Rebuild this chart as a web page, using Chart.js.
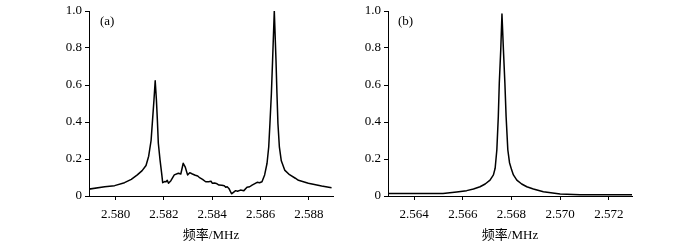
<!DOCTYPE html>
<html>
<head>
<meta charset="utf-8">
<script src="https://cdn.jsdelivr.net/npm/chart.js@4.4.0/dist/chart.umd.min.js"></script>
<style>
  html, body { margin: 0; padding: 0; background: #fff; }
  #wrap { position: relative; width: 674px; height: 245px; }
  .panel { position: absolute; top: 0; width: 337px; height: 245px; }
</style>
</head>
<body>
<div id="wrap">
  <div class="panel" style="left:0"><canvas id="chartA"></canvas></div>
  <div class="panel" style="left:337px"><canvas id="chartB"></canvas></div>
</div>
<script>
// (a) frequency (MHz) and normalised amplitude
const freqA = [
  2.57889, 2.57955, 2.57996, 2.58037, 2.58065, 2.58090, 2.58110, 2.58126, 2.58137, 2.58147,
  2.58153, 2.58159, 2.58164, 2.58169, 2.58173, 2.58177, 2.58184, 2.58191, 2.58195, 2.58203,
  2.58209, 2.58214, 2.58219, 2.58229, 2.58243, 2.58260, 2.58270, 2.58280, 2.58288, 2.58298,
  2.58307, 2.58318, 2.58330, 2.58340, 2.58346, 2.58360, 2.58373, 2.58385, 2.58395, 2.58400,
  2.58410, 2.58420, 2.58428, 2.58440, 2.58450, 2.58456, 2.58462, 2.58469, 2.58480, 2.58497,
  2.58505, 2.58517, 2.58531, 2.58544, 2.58555, 2.58565, 2.58586, 2.58596, 2.58606, 2.58617,
  2.58627, 2.58634, 2.58639, 2.58645, 2.58650, 2.58657, 2.58664, 2.58668,
  2.58672, 2.58678, 2.58686, 2.58700, 2.58720, 2.58744, 2.58757, 2.58798, 2.58853, 2.58894
];
const ampA = [
  0.037, 0.050, 0.056, 0.072, 0.090, 0.114, 0.137, 0.165, 0.215, 0.300,
  0.410, 0.520, 0.623, 0.520, 0.410, 0.285, 0.195, 0.120, 0.072, 0.078,
  0.077, 0.085, 0.069, 0.083, 0.114, 0.123, 0.119, 0.177, 0.158, 0.114,
  0.126, 0.119, 0.112, 0.108, 0.101, 0.090, 0.077, 0.077, 0.080, 0.069,
  0.070, 0.066, 0.059, 0.058, 0.055, 0.047, 0.050, 0.041, 0.012, 0.029,
  0.026, 0.032, 0.029, 0.047, 0.050, 0.059, 0.074, 0.072, 0.077, 0.114,
  0.177, 0.266, 0.393, 0.555, 0.735, 1.000, 0.735, 0.555,
  0.393, 0.266, 0.190, 0.140, 0.115, 0.096, 0.085, 0.069, 0.054, 0.045
];

// (b)
const freqB = [
  2.56293, 2.56519, 2.56575, 2.56616, 2.56644, 2.56671, 2.56692, 2.56712, 2.56726, 2.56733,
  2.56740, 2.56746, 2.56750, 2.56756, 2.56761, 2.56767, 2.56773, 2.56778, 2.56785,
  2.56792, 2.56801, 2.56808, 2.56822, 2.56842, 2.56863, 2.56890, 2.56931, 2.57000, 2.57082,
  2.57295
];
const ampB = [
  0.014, 0.014, 0.022, 0.029, 0.038, 0.050, 0.065, 0.086, 0.114, 0.150,
  0.250, 0.430, 0.610, 0.790, 0.984, 0.790, 0.610, 0.430, 0.250,
  0.180, 0.140, 0.114, 0.086, 0.065, 0.050, 0.038, 0.023, 0.011, 0.007,
  0.007
];

const xTicksA = [2.580, 2.582, 2.584, 2.586, 2.588];
const xTicksB = [2.564, 2.566, 2.568, 2.570, 2.572];
const yTicks = [0, 0.2, 0.4, 0.6, 0.8, 1.0];

const serif = "'Liberation Serif', 'Times New Roman', 'Noto Sans CJK SC', serif";
const titleFont = "'Liberation Serif', 'Noto Sans CJK SC', serif";

const panelLabel = {
  id: 'panelLabel',
  afterDraw(chart, args, opts) {
    const { ctx, chartArea } = chart;
    ctx.save();
    ctx.font = `13px ${serif}`;
    ctx.fillStyle = '#000';
    ctx.textBaseline = 'middle';
    ctx.fillText(opts.text, chartArea.left + opts.dx, chartArea.top + 11);
    ctx.restore();
  }
};

function makeChart(id, xs, ys, xMin, xMax, xTicks, yWidth, padRight, label, dx) {
  return new Chart(document.getElementById(id), {
    type: 'line',
    data: {
      datasets: [{
        data: xs.map((x, i) => ({ x, y: ys[i] })),
        borderColor: '#000',
        borderWidth: 1.5,
        borderJoinStyle: 'round',
        pointRadius: 0,
        tension: 0,
        fill: false
      }]
    },
    options: {
      responsive: true,
      maintainAspectRatio: false,
      animation: false,
      events: [],
      layout: { padding: { top: 11, right: padRight, left: 0, bottom: 0 } },
      plugins: {
        legend: { display: false },
        tooltip: { enabled: false },
        panelLabel: { text: label, dx }
      },
      scales: {
        x: {
          type: 'linear',
          min: xMin,
          max: xMax,
          afterBuildTicks: (s) => { s.ticks = xTicks.map((v) => ({ value: v })); },
          afterFit: (s) => { s.height = 49; },
          border: { display: true, color: '#000', width: 1 },
          grid: { drawOnChartArea: false, drawTicks: true, tickLength: 4, color: '#000' },
          ticks: {
            color: '#000',
            font: { family: serif, size: 13 },
            padding: 7,
            maxRotation: 0,
            callback: (v) => Number(v).toFixed(3)
          },
          title: {
            display: true,
            text: '频率/MHz',
            color: '#000',
            font: { family: titleFont, size: 13 },
            padding: { top: 0, bottom: 2 }
          }
        },
        y: {
          min: 0,
          max: 1,
          afterBuildTicks: (s) => { s.ticks = yTicks.map((v) => ({ value: v })); },
          afterFit: (s) => { s.width = yWidth; },
          border: { display: true, color: '#000', width: 1 },
          grid: { drawOnChartArea: false, drawTicks: true, tickLength: 4, color: '#000' },
          ticks: {
            color: '#000',
            font: { family: serif, size: 13 },
            padding: 3,
            callback: (v) => (v === 0 ? '0' : Number(v).toFixed(1))
          }
        }
      }
    },
    plugins: [panelLabel]
  });
}

makeChart('chartA', freqA, ampA, 2.5789, 2.5890, xTicksA, 89, 4, '(a)', 11);
makeChart('chartB', freqB, ampB, 2.56293, 2.57295, xTicksB, 51, 42, '(b)', 10);
</script>
</body>
</html>
